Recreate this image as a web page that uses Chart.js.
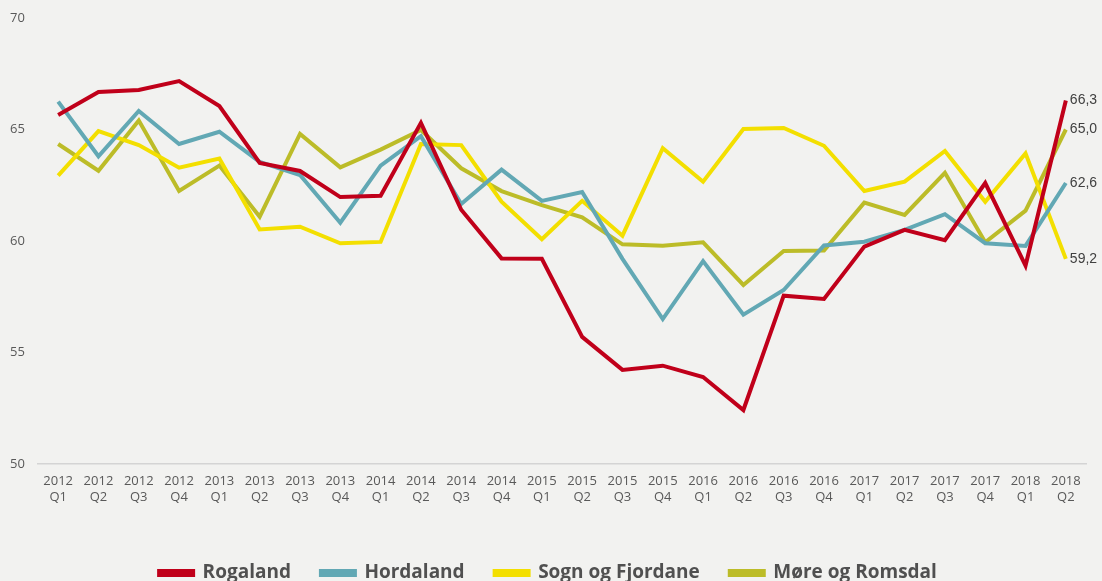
<!DOCTYPE html>
<html>
<head>
<meta charset="utf-8">
<script src="https://cdn.jsdelivr.net/npm/chart.js@4/dist/chart.umd.min.js"></script>
<style>
  html, body { margin: 0; padding: 0; background: #f2f2f0; overflow: hidden; }
  #wrap { width: 1102px; height: 600px; position: relative; }
</style>
</head>
<body>
<div id="wrap"><canvas id="chart"></canvas></div>
<script>
const labels = [
  ['2012', 'Q1'], ['2012', 'Q2'], ['2012', 'Q3'], ['2012', 'Q4'],
  ['2013', 'Q1'], ['2013', 'Q2'], ['2013', 'Q3'], ['2013', 'Q4'],
  ['2014', 'Q1'], ['2014', 'Q2'], ['2014', 'Q3'], ['2014', 'Q4'],
  ['2015', 'Q1'], ['2015', 'Q2'], ['2015', 'Q3'], ['2015', 'Q4'],
  ['2016', 'Q1'], ['2016', 'Q2'], ['2016', 'Q3'], ['2016', 'Q4'],
  ['2017', 'Q1'], ['2017', 'Q2'], ['2017', 'Q3'], ['2017', 'Q4'],
  ['2018', 'Q1'], ['2018', 'Q2']
];

const rogaland = [65.65, 66.68, 66.77, 67.17, 66.05, 63.5, 63.14, 61.97, 62.03, 65.3, 61.4, 59.22, 59.2,
  55.7, 54.22, 54.41, 53.9, 52.42, 57.55, 57.4, 59.75, 60.5, 60.04, 62.6, 58.9, 66.3];
const hordaland = [66.25, 63.8, 65.83, 64.35, 64.9, 63.55, 62.96, 60.82, 63.38, 64.7, 61.66, 63.2, 61.8,
  62.2, 59.2, 56.5, 59.1, 56.7, 57.8, 59.8, 59.97, 60.5, 61.2, 59.9, 59.78, 62.6];
const sogn = [62.93, 64.93, 64.3, 63.29, 63.7, 60.52, 60.64, 59.9, 59.96, 64.35, 64.3, 61.76, 60.08,
  61.8, 60.24, 64.16, 62.66, 65.02, 65.07, 64.27, 62.24, 62.66, 64.04, 61.76, 63.93, 59.2];
const more = [64.35, 63.15, 65.4, 62.24, 63.38, 61.09, 64.8, 63.3, 64.1, 64.98, 63.26, 62.24, 61.61,
  61.06, 59.85, 59.79, 59.94, 58.03, 59.55, 59.57, 61.72, 61.17, 63.06, 59.94, 61.36, 65.0];

const sans = '"Open Sans", "Noto Sans", sans-serif';

function line(label, data, color) {
  return {
    label: label,
    data: data,
    borderColor: color,
    backgroundColor: color,
    borderWidth: 4,
    pointRadius: 0,
    tension: 0,
    borderJoinStyle: 'miter'
  };
}

// value labels at the end of each line
const endLabels = {
  id: 'endLabels',
  afterDatasetsDraw(chart) {
    const ctx = chart.ctx;
    ctx.save();
    ctx.font = '14px "Liberation Sans", Arial, sans-serif';
    ctx.fillStyle = '#404040';
    ctx.textBaseline = 'middle';
    ctx.textAlign = 'left';
    chart.data.datasets.forEach((ds, i) => {
      const meta = chart.getDatasetMeta(i);
      const last = meta.data[meta.data.length - 1];
      const v = ds.data[ds.data.length - 1];
      ctx.fillText(v.toFixed(1).replace('.', ','), last.x + 4, last.y);
    });
    ctx.restore();
  }
};

new Chart(document.getElementById('chart'), {
  type: 'line',
  data: {
    labels: labels,
    datasets: [
      line('Rogaland', rogaland, '#c0001a'),
      line('Hordaland', hordaland, '#62a8b4'),
      line('Sogn og Fjordane', sogn, '#f3df00'),
      line('Møre og Romsdal', more, '#bcbc28')
    ]
  },
  options: {
    responsive: true,
    maintainAspectRatio: false,
    animation: false,
    layout: { padding: { left: 10, right: 16, top: 18, bottom: 7.5 } },
    plugins: {
      tooltip: { enabled: false },
      legend: {
        position: 'bottom',
        labels: {
          boxWidth: 34,
          boxHeight: 4,
          padding: 30,
          color: '#505050',
          font: { family: sans, size: 19, weight: 'bold' }
        }
      }
    },
    scales: {
      x: {
        offset: true,
        grid: { display: false, drawTicks: false },
        border: { display: true, color: '#d4d4d4', width: 1.5 },
        ticks: {
          color: '#595959',
          maxRotation: 0,
          autoSkip: false,
          padding: 9,
          font: { family: sans, size: 13, lineHeight: 1.27 }
        },
        afterFit(scale) { scale.height = 69.5; }
      },
      y: {
        min: 50,
        max: 70,
        grid: { display: false, drawTicks: false },
        border: { display: false },
        ticks: {
          stepSize: 5,
          crossAlign: 'far',
          color: '#595959',
          font: { family: sans, size: 13 }
        },
        afterFit(scale) { scale.width = 28; }
      }
    }
  },
  plugins: [endLabels]
});
</script>
</body>
</html>
